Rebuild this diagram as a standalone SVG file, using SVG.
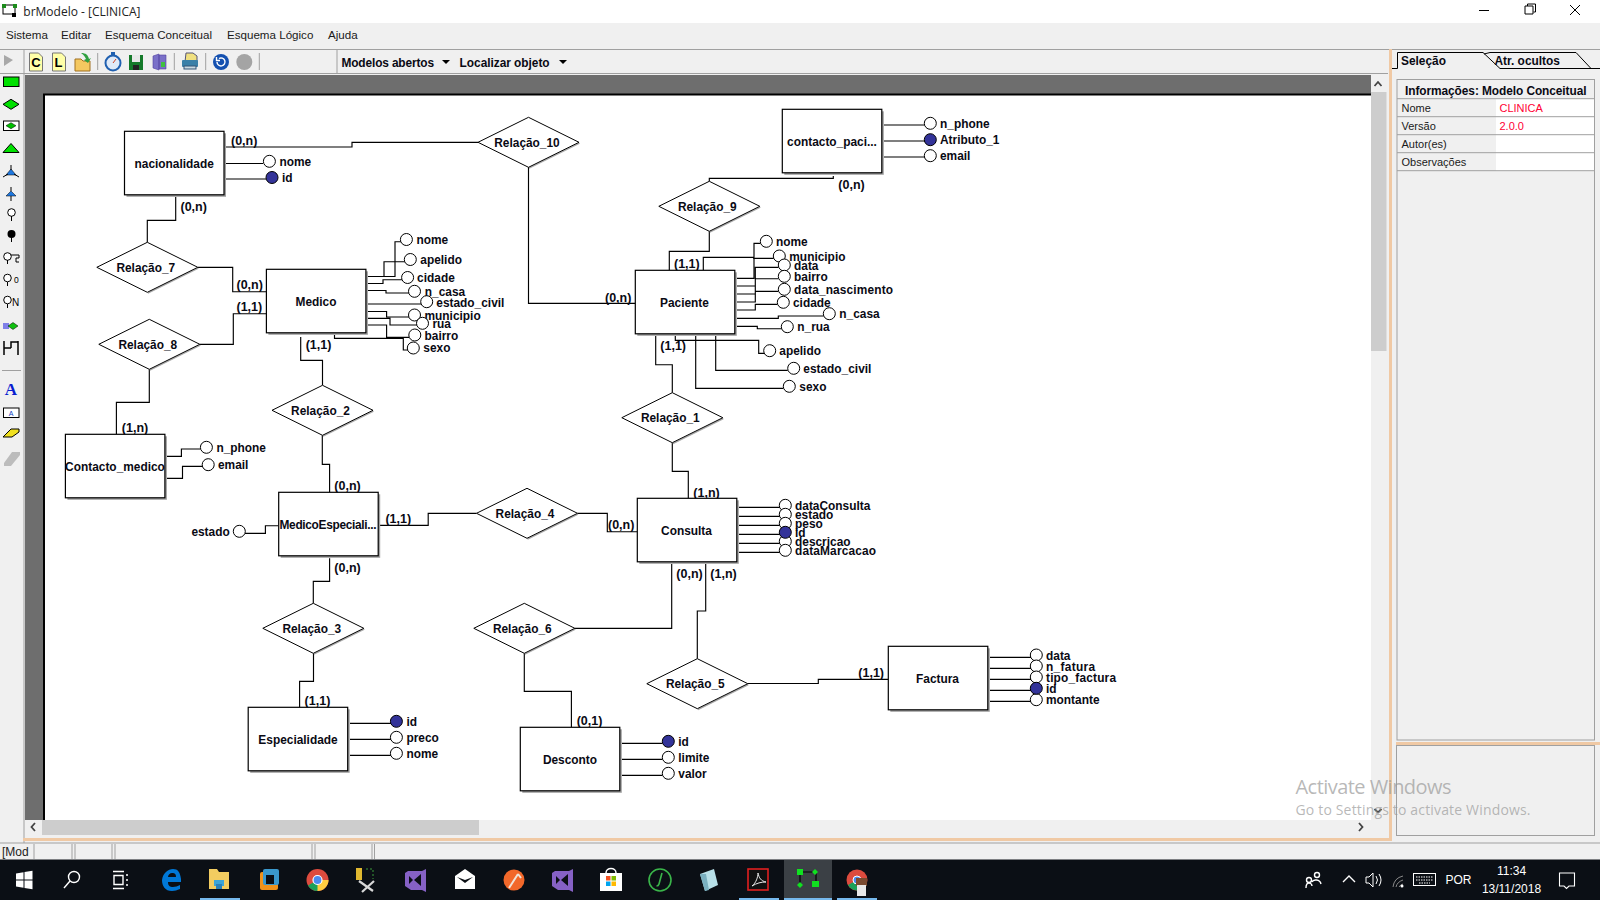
<svg xmlns="http://www.w3.org/2000/svg" width="1600" height="900" viewBox="0 0 1600 900">
<style>
.t{font:bold 11.9px "Liberation Sans",Arial,sans-serif;fill:#0a0a14}
.l{font-size:12.5px}
.m{text-anchor:middle}
.u{font:11.6px "Liberation Sans",Arial,sans-serif;fill:#1a1a1a}
.p{font:11px "Liberation Sans",Arial,sans-serif;fill:#1a1a1a}
.w{font:12px "Liberation Sans",Arial,sans-serif;fill:#fff}
.c{fill:none;stroke:#000;stroke-width:1.15}
.a{fill:#fff;stroke:#000;stroke-width:1}
.k{fill:#333399;stroke:#000;stroke-width:1}
.b{fill:#fff;stroke:#000;stroke-width:1.2}
.s{fill:#a0a0a0}
.g{fill:none;stroke:#a0a0a0;stroke-width:1}
.o{fill:#f0c9a4}
.ic{fill:none;stroke:#fff;stroke-width:1.4}
.bl{fill:#76b9ed}
</style>
<defs>
<g id="ent"><rect x="2" y="2" width="99.5" height="63.5" class="s"/><rect width="99.5" height="63.5" class="b"/></g>
<g id="dia"><path d="M51 .8L.5 25.800" fill="none" stroke="#a8a8a8" stroke-width="1.500"/><polygon points="-50.500,0 0,-25 50.500,0 0,25" fill="#fff" stroke="#000" stroke-width="1"/></g>
</defs>

<rect width="1600" height="900" fill="#f0f0f0"/>
<rect width="1600" height="23" fill="#fff"/>
<g id="title">
<rect x="3" y="5" width="12" height="9" fill="none" stroke="#000"/><rect x="2" y="4" width="4" height="4" fill="#1c8c1c"/><rect x="13" y="4" width="4" height="4" fill="#1c8c1c"/><rect x="12" y="13" width="4" height="4" fill="#000"/>
<text x="23.300" y="16" font-family="Open Sans, Liberation Sans, sans-serif" font-size="12" fill="#222">brModelo - [CLINICA]</text>
<path d="M1479 10.500H1489" stroke="#000" fill="none"/><path d="M1525 14h8v-8h-8zM1527.500 6V4h8v8h-2" fill="none" stroke="#000"/><path d="M1570 5l10 10M1580 5l-10 10" stroke="#000" fill="none"/>
</g>
<g id="menu">
<text class="u" x="6" y="39">Sistema</text><text class="u" x="61" y="39">Editar</text><text class="u" x="105" y="39">Esquema Conceitual</text><text class="u" x="227" y="39">Esquema Lógico</text><text class="u" x="328" y="39">Ajuda</text>
</g>
<path d="M0 49.500H1390M0 73.500H25" class="g"/><path d="M24 50V843M337 50V73M97.700 53V70M174.300 53V70M205.700 53V70M259.300 53V70" class="g"/>
<path d="M25 73.500H1388" class="g"/>

<g id="toolbar">
<path d="M29.500 53h9l4 4v14h-13z" fill="#ffffa8" stroke="#777"/><text x="36" y="67" text-anchor="middle" font-family="Liberation Sans,sans-serif" font-weight="bold" font-size="13" fill="#000">C</text>
<path d="M52.500 53h9l4 4v14h-13z" fill="#ffffa8" stroke="#777"/><text x="58.500" y="67" text-anchor="middle" font-family="Liberation Sans,sans-serif" font-weight="bold" font-size="13" fill="#000">L</text>
<path d="M75 59h6l2 2h7v10H75z" fill="#f4c860" stroke="#a07020"/><path d="M81 53c5 0 7 2 8 6l2-1-3 5-4-3 2-1c-1-2-2-4-5-6z" fill="#30a040"/>
<circle cx="113" cy="63" r="7.500" fill="#dfeaf8" stroke="#2060b0" stroke-width="2"/><path d="M113 63l3-4" stroke="#d04020"/><rect x="111" y="52" width="4" height="3" fill="#2060b0"/>
<rect x="129" y="55" width="14" height="15" fill="#157a2a"/><rect x="132" y="55" width="8" height="7" fill="#e8e8e8"/><rect x="133" y="65" width="6" height="5" fill="#222"/>
<path d="M153 56l6-2v16l-6-2zM159 55h7v14h-7z" fill="#7a70c8" stroke="#5040a0" stroke-width=".6"/><rect x="161" y="62" width="4" height="5" fill="#40c040"/>
<path d="M185 62h12v-6l-4-3h-7z" fill="#f0e080" stroke="#557"/><rect x="182" y="60" width="16" height="7" rx="1" fill="#3a80a8"/><rect x="184" y="66" width="12" height="3" fill="#c8d8e0" stroke="#357"/>
<circle cx="221" cy="62" r="8" fill="#1450b0"/><path d="M217 62a4 4 0 1 0 2-3.500M216.500 57v3.500h3.500" fill="none" stroke="#fff" stroke-width="1.400"/>
<circle cx="244.300" cy="62" r="8" fill="#a4a4a4"/>
<text class="t" x="341.500" y="66.500" textLength="92.500">Modelos abertos</text><path d="M442 60h8l-4 4z" fill="#000"/>
<text class="t" x="459.600" y="66.500" textLength="90">Localizar objeto</text><path d="M559 60h8l-4 4z" fill="#000"/>
</g>

<g id="palette">
<path d="M4 55l9 5-9 6z" fill="#a8a8a8"/>
<rect x="3.500" y="77" width="15.500" height="9.500" fill="#00e000" stroke="#000"/>
<polygon points="3,104.300 11,99.300 19,104.300 11,109.300" fill="#00e000" stroke="#000"/>
<rect x="3.500" y="121" width="15.500" height="9.500" fill="#fff" stroke="#000"/><polygon points="6,125.700 11,122.700 16,125.700 11,128.700" fill="#00c000" stroke="#000" stroke-width=".5"/>
<polygon points="3,152.500 11,143.500 19,152.500" fill="#00e000" stroke="#000"/>
<polygon points="6,175 11,169 16,175" fill="#1e78e0" stroke="#000" stroke-width=".5"/><path d="M3 177l5-3M19 177l-5-3M11 165v5" stroke="#000" fill="none"/>
<polygon points="6,196 11,191 16,196" fill="#1e78e0" stroke="#000" stroke-width=".5"/><path d="M11 187v4M11 196v5" stroke="#000"/>
<circle cx="11.500" cy="212.500" r="3.800" fill="#fff" stroke="#000"/><path d="M11.500 216v5" stroke="#000"/>
<circle cx="11.500" cy="234" r="4" fill="#000"/><path d="M11.500 237v5" stroke="#000"/>
<circle cx="7.500" cy="256.500" r="3.800" fill="#fff" stroke="#000"/><path d="M7.500 260v4M11 255h8v3h-3v4h3" fill="none" stroke="#000"/>
<circle cx="7.500" cy="278" r="3.800" fill="#fff" stroke="#000"/><path d="M7.500 282v4" stroke="#000"/><text x="14" y="283" font-family="Liberation Sans,sans-serif" font-size="8.500" fill="#000">0</text>
<circle cx="7.500" cy="300" r="3.800" fill="#fff" stroke="#000"/><path d="M7.500 304v4" stroke="#000"/><text x="12" y="305.500" font-family="Liberation Sans,sans-serif" font-size="10" fill="#000">N</text>
<path d="M3 324h6M3 326h6M3 328h6" stroke="#1010e0" stroke-width="1"/><polygon points="8,326 13,322.500 18,326 13,329.500" fill="#10c010" stroke="#000" stroke-width=".5"/>
<path d="M4 341v14M18 341v14M4 348h7M11 348v-6h7" fill="none" stroke="#000" stroke-width="1.500"/>
<path d="M2 370.500H21" class="g"/>
<text x="11" y="395" text-anchor="middle" font-family="Liberation Serif,serif" font-weight="bold" font-size="17" fill="#0a1ed0">A</text>
<rect x="3.500" y="408" width="15.500" height="9.500" fill="#fff" stroke="#000"/><text x="11" y="416" text-anchor="middle" font-family="Liberation Sans,sans-serif" font-size="7" fill="#1040c0">A</text>
<polygon points="3,437 11,429 19,429 19,432 12,437" fill="#f0e020" stroke="#000"/>
<polygon points="4,463 12,452 20,452 20,455 11,466 4,466" fill="#bcbcbc"/>
</g>

<g id="workspace">
<rect x="25" y="75" width="1346" height="745" fill="#6e6e6e"/>
<rect x="44" y="94" width="1327" height="726" fill="#fff"/>
<path d="M44 820V94.500H1371" fill="none" stroke="#000" stroke-width="2"/>
<rect x="1371" y="75" width="15.500" height="745" fill="#f0f0f0"/>
<rect x="1371" y="92" width="15.500" height="259" fill="#cdcdcd"/>
<path d="M1374.500 86l3.500-4 3.500 4M1374.500 809l3.500 3.500 3.500-3.500" fill="none" stroke="#444" stroke-width="1.800"/>
<rect x="25" y="820" width="1361" height="16" fill="#f0f0f0"/>
<rect x="42" y="820" width="437" height="15" fill="#cdcdcd"/>
<path d="M35 823l-3.500 4 3.500 4M1359 823l3.500 4-3.500 4" fill="none" stroke="#444" stroke-width="1.800"/>
<rect x="1389" y="49" width="3" height="792" class="o"/><rect x="23" y="838" width="1369" height="3" class="o"/>
</g>

<g id="panel">
<path d="M1392 68.500H1397.500V52.500H1483L1500 68.500" fill="none" stroke="#000"/><path d="M1392 49.500H1600" class="g"/>
<path d="M1490 52.500H1576L1591 68.500H1600M1500 68.500H1591M1490 52.500L1484 54" fill="none" stroke="#000"/>
<text class="t" x="1401" y="64.500">Seleção</text><text class="t" x="1494.500" y="64.500">Atr. ocultos</text>
<rect x="1397" y="79.500" width="197.500" height="660.500" class="g"/>
<rect x="1496" y="99" width="98" height="72" fill="#fff"/>
<path d="M1397 98.700H1594M1397 116.700H1594M1397 134.700H1594M1397 152.700H1594M1397 170.700H1594" class="g"/>
<text class="t" x="1405" y="94.500" textLength="181.500">Informações: Modelo Conceitual</text>
<text class="p" x="1401.500" y="112">Nome</text><text class="p" x="1401.500" y="130">Versão</text><text class="p" x="1401.500" y="148">Autor(es)</text><text class="p" x="1401.500" y="166">Observações</text>
<text class="p" x="1499.500" y="112" style="fill:#ff0033">CLINICA</text><text class="p" x="1499.500" y="130" style="fill:#ff0033">2.0.0</text>
<rect x="1396" y="742" width="204" height="3" class="o"/>
<rect x="1396.500" y="745.500" width="198" height="90" class="g"/>
</g>

<g id="statusbar">
<path d="M0 843H1600" stroke="#a0a0a0" fill="none"/><path d="M34 844V859M72 844V859M75 844V859M112 844V859M115 844V859M312 844V859M315 844V859M372 844V859M374.500 844V859" class="g"/>
<text x="2" y="856" font-family="Liberation Sans,sans-serif" font-size="12" fill="#222">[Mod</text>
</g>

<g id="connectors">
<path class="c" d="M226 147H352V142.300H478"/>
<path class="c" d="M528.500 167V303.300H635.300"/>
<path class="c" d="M175.700 197V220.300H147.300V242.300"/>
<path class="c" d="M198 267.300H232.700V291.700H266.400"/>
<path class="c" d="M199.800 344.300H233.300V313.700H266.400"/>
<path class="c" d="M149.300 369.300V402.300H116.400V434.300"/>
<path class="c" d="M300.700 337V360.300H322.500V385.300"/>
<path class="c" d="M322.300 435.300V464.300H329.600V492.300"/>
<path class="c" d="M329.600 558.300V581.300H313.300V603.300"/>
<path class="c" d="M313.500 653.300V681.300H299.600V707.300"/>
<path class="c" d="M380 525.300H428.200V513.300H476.500"/>
<path class="c" d="M577.500 513.300H607.300V531.700H637.300"/>
<path class="c" d="M671.700 564V628.300H574.800"/>
<path class="c" d="M524.300 653.300V691.300H571.400V727.300"/>
<path class="c" d="M705.700 564V611H697.300V658.700"/>
<path class="c" d="M748 683.500H818.300V679.300H888.300"/>
<path class="c" d="M672.300 442.700V471.300H688.300V498.300"/>
<path class="c" d="M655.700 336V364.700H672.300V392.700"/>
<path class="c" d="M833.300 176V178.300H709.300V181.300"/>
<path class="c" d="M709.300 231.300V251.300H669.300V270.300"/>
<path class="c" d="M226 163.500H263M226 179H266"/>
<path class="c" d="M884 125H925M884 141H925M884 157H925"/>
<path class="c" d="M367.800 276.500H395V241.700H401M367.800 276.500H384V261.700H405M367.800 283.500H383V279.700H402M367.800 290.500H386V293H409M367.800 304H421M367.800 311.500H386.600V317H409M367.800 318.300H390V325H417M367.800 325H386.600V337.400H409M334.500 335V338.300H403.300V350H408"/>
<path class="c" d="M167 456.300H181.400V449H200.500M167 478.300H182.500V466.300H202"/>
<path class="c" d="M245 533.300H265.400V525.700H278.200"/>
<path class="c" d="M350 723.300H391M350 739.300H391M350 755.300H391"/>
<path class="c" d="M622 743.300H662.500M622 759.300H662.500M622 775.300H662.500"/>
<path class="c" d="M739 507.300H780M739 516.300H780M739 525.300H780M739 534.300H780M739 543.300H780M739 552.300H780"/>
<path class="c" d="M990 657.300H1031M990 668.300H1031M990 679.300H1031M990 690.300H1031M990 701.300H1031"/>
<path class="c" d="M737 278.300H754V243.300H760.500M703.300 270.300V257.300H753.700V258.300H773.700M737 286H755.300V267.300H778.500M737 294H755.300V278.700H778.500M737 302H755.300V291.300H778.500M737 310H755.300V304.300H777.500M737 318.300H778.300V316H823.500M737 326.300H757.300V328.700H781.500"/>
<path class="c" d="M675.300 336V340.300H758.700V353.300H764M715.700 336V370.300H787.700M695.700 336V388.300H783.300"/>
<g class="t l">
<text x="231" y="144.700">(0,n)</text><text x="180.500" y="211">(0,n)</text><text x="236.500" y="289">(0,n)</text><text x="236.500" y="311">(1,1)</text><text x="121.800" y="432">(1,n)</text><text x="305.700" y="349">(1,1)</text><text x="334.300" y="490">(0,n)</text><text x="334.300" y="572.300">(0,n)</text><text x="304.600" y="705">(1,1)</text><text x="385.400" y="523">(1,1)</text><text x="608" y="529">(0,n)</text><text x="693.300" y="496.700">(1,n)</text><text x="676.300" y="578.300">(0,n)</text><text x="710.300" y="578.300">(1,n)</text><text x="858.300" y="676.700">(1,1)</text><text x="576.700" y="725">(0,1)</text><text x="838.300" y="189.300">(0,n)</text><text x="674" y="268.300">(1,1)</text><text x="605" y="301.700">(0,n)</text><text x="660.300" y="350.300">(1,1)</text>
</g>
</g>

<g id="nacionalidade"><use href="#ent" x="124.500" y="131.300"/><text class="t m" x="174.200" y="168">nacionalidade</text></g>
<g id="contacto_paciente"><use href="#ent" x="782.300" y="109.300"/><text class="t m" x="832" y="145.500">contacto_paci...</text></g>
<g id="medico"><use href="#ent" x="266.400" y="269.300"/><text class="t m" x="316" y="306">Medico</text></g>
<g id="paciente"><use href="#ent" x="635.300" y="270.300"/><text class="t m" x="684.500" y="307">Paciente</text></g>
<g id="contacto_medico"><use href="#ent" x="65.400" y="434.300"/><text class="t m" x="115" y="471">Contacto_medico</text></g>
<g id="medico_especialidade"><use href="#ent" x="278.700" y="492.300"/><text class="t m" x="328" y="529" textLength="97">MedicoEspeciali...</text></g>
<g id="consulta"><use href="#ent" x="637.300" y="498.300"/><text class="t m" x="686.500" y="535">Consulta</text></g>
<g id="especialidade"><use href="#ent" x="248.200" y="707.300"/><text class="t m" x="298" y="744">Especialidade</text></g>
<g id="desconto"><use href="#ent" x="520.300" y="727.300"/><text class="t m" x="570" y="764">Desconto</text></g>
<g id="factura"><use href="#ent" x="888.300" y="646.300"/><text class="t m" x="937.500" y="683">Factura</text></g>

<g id="relacao_10"><use href="#dia" x="528.500" y="142.300"/><text class="t m" x="527" y="147">Relação_10</text></g>
<g id="relacao_7"><use href="#dia" x="147.300" y="267.300"/><text class="t m" x="145.800" y="272">Relação_7</text></g>
<g id="relacao_8"><use href="#dia" x="149.300" y="344.300"/><text class="t m" x="147.800" y="349">Relação_8</text></g>
<g id="relacao_2"><use href="#dia" x="322.500" y="410.300"/><text class="t m" x="320.500" y="415">Relação_2</text></g>
<g id="relacao_3"><use href="#dia" x="313.300" y="628.300"/><text class="t m" x="311.800" y="633">Relação_3</text></g>
<g id="relacao_4"><use href="#dia" x="527" y="513.300"/><text class="t m" x="525" y="518">Relação_4</text></g>
<g id="relacao_6"><use href="#dia" x="524.300" y="628.300"/><text class="t m" x="522.300" y="633">Relação_6</text></g>
<g id="relacao_9"><use href="#dia" x="709.300" y="206.300"/><text class="t m" x="707.300" y="211">Relação_9</text></g>
<g id="relacao_1"><use href="#dia" x="672.300" y="417.700"/><text class="t m" x="670.300" y="421.700">Relação_1</text></g>
<g id="relacao_5"><use href="#dia" x="697.300" y="683.700"/><text class="t m" x="695.300" y="687.700">Relação_5</text></g>

<g id="attributes">
<g id="nac_nome"><circle class="a" cx="269.400" cy="161.300" r="6"/><text class="t" x="279.400" y="166">nome</text></g>
<g id="nac_id"><circle class="k" cx="272" cy="177.500" r="6"/><text class="t" x="282" y="182">id</text></g>
<g id="cp_phone"><circle class="a" cx="930.300" cy="123.300" r="6"/><text class="t" x="940" y="128">n_phone</text></g>
<g id="cp_atr"><circle class="k" cx="930.300" cy="139.700" r="6"/><text class="t" x="940" y="144">Atributo_1</text></g>
<g id="cp_email"><circle class="a" cx="930.300" cy="155.700" r="6"/><text class="t" x="940" y="160">email</text></g>

<g id="m_nome"><circle class="a" cx="406.400" cy="239.500" r="6"/><text class="t" x="416.400" y="244">nome</text></g>
<g id="m_apelido"><circle class="a" cx="410.300" cy="259.500" r="6"/><text class="t" x="420.300" y="264">apelido</text></g>
<g id="m_cidade"><circle class="a" cx="407.600" cy="277.500" r="6"/><text class="t" x="417.100" y="282">cidade</text></g>
<g id="m_ncasa"><circle class="a" cx="414.500" cy="291.300" r="6"/><text class="t" x="424.800" y="296">n_casa</text></g>
<g id="m_estado"><circle class="a" cx="426.700" cy="301.700" r="6"/><text class="t" x="436.300" y="306.500">estado_civil</text></g>
<g id="m_municipio"><circle class="a" cx="414.500" cy="315" r="6"/><text class="t" x="424.500" y="320">municipio</text></g>
<g id="m_rua"><circle class="a" cx="422.500" cy="323.300" r="6"/><text class="t" x="432.400" y="328">rua</text></g>
<g id="m_bairro"><circle class="a" cx="414.800" cy="335" r="6"/><text class="t" x="424.500" y="340">bairro</text></g>
<g id="m_sexo"><circle class="a" cx="413.300" cy="348" r="6"/><text class="t" x="423.300" y="352">sexo</text></g>

<g id="cm_phone"><circle class="a" cx="206.400" cy="447.300" r="6"/><text class="t" x="216.400" y="452">n_phone</text></g>
<g id="cm_email"><circle class="a" cx="208.200" cy="464.700" r="6"/><text class="t" x="218" y="469">email</text></g>
<g id="me_estado"><circle class="a" cx="239.300" cy="531.300" r="6"/><text class="t" x="191.400" y="536">estado</text></g>
<g id="e_id"><circle class="k" cx="396.400" cy="721.300" r="6"/><text class="t" x="406.400" y="725.700">id</text></g>
<g id="e_preco"><circle class="a" cx="396.400" cy="737.300" r="6"/><text class="t" x="406.400" y="741.700">preco</text></g>
<g id="e_nome"><circle class="a" cx="396.400" cy="753.300" r="6"/><text class="t" x="406.400" y="757.700">nome</text></g>
<g id="d_id"><circle class="k" cx="668.300" cy="741.300" r="6"/><text class="t" x="678.300" y="746">id</text></g>
<g id="d_limite"><circle class="a" cx="668.300" cy="757.300" r="6"/><text class="t" x="678.300" y="762">limite</text></g>
<g id="d_valor"><circle class="a" cx="668.300" cy="773.300" r="6"/><text class="t" x="678.300" y="778">valor</text></g>

<g id="c_dataconsulta"><circle class="a" cx="785.300" cy="505.300" r="6"/><text class="t" x="795" y="510">dataConsulta</text></g>
<g id="c_estado"><circle class="a" cx="785.300" cy="514.300" r="6"/><text class="t" x="795" y="519">estado</text></g>
<g id="c_peso"><circle class="a" cx="785.300" cy="523.300" r="6"/><text class="t" x="795" y="528">peso</text></g>
<g id="c_descricao"><circle class="a" cx="785.300" cy="541.300" r="6"/><text class="t" x="795" y="546">descricao</text></g>
<g id="c_datamarcacao"><circle class="a" cx="785.300" cy="550.300" r="6"/><text class="t" x="795" y="555" textLength="81">dataMarcacao</text></g>
<g id="c_id"><circle class="k" cx="785.300" cy="532.300" r="6"/><text class="t" x="795" y="537">id</text></g>

<g id="f_data"><circle class="a" cx="1036.300" cy="655" r="6"/><text class="t" x="1046" y="660">data</text></g>
<g id="f_nfatura"><circle class="a" cx="1036.300" cy="666" r="6"/><text class="t" x="1046" y="671" textLength="49">n_fatura</text></g>
<g id="f_tipo"><circle class="a" cx="1036.300" cy="677" r="6"/><text class="t" x="1046" y="682" textLength="70">tipo_factura</text></g>
<g id="f_montante"><circle class="a" cx="1036.300" cy="699.700" r="6"/><text class="t" x="1046" y="704">montante</text></g>
<g id="f_id"><circle class="k" cx="1036.300" cy="688.300" r="6"/><text class="t" x="1046" y="693">id</text></g>

<g id="p_nome"><circle class="a" cx="766.300" cy="241.300" r="6"/><text class="t" x="776" y="246">nome</text></g>
<g id="p_municipio"><circle class="a" cx="779.300" cy="256" r="6"/><text class="t" x="789.300" y="260.700">municipio</text></g>
<g id="p_data"><circle class="a" cx="784.300" cy="265" r="6"/><text class="t" x="794" y="270">data</text></g>
<g id="p_bairro"><circle class="a" cx="784.300" cy="276.300" r="6"/><text class="t" x="794" y="281.300">bairro</text></g>
<g id="p_nasc"><circle class="a" cx="784.300" cy="289.300" r="6"/><text class="t" x="794" y="294" textLength="99">data_nascimento</text></g>
<g id="p_cidade"><circle class="a" cx="783.300" cy="302.300" r="6"/><text class="t" x="793" y="307">cidade</text></g>
<g id="p_ncasa"><circle class="a" cx="829.300" cy="313.700" r="6"/><text class="t" x="839.300" y="318.300">n_casa</text></g>
<g id="p_nrua"><circle class="a" cx="787.300" cy="326.700" r="6"/><text class="t" x="797.300" y="331.300">n_rua</text></g>
<g id="p_apelido"><circle class="a" cx="769.700" cy="350.700" r="6"/><text class="t" x="779.300" y="355">apelido</text></g>
<g id="p_estado"><circle class="a" cx="793.700" cy="368.300" r="6"/><text class="t" x="803.300" y="373">estado_civil</text></g>
<g id="p_sexo"><circle class="a" cx="789.300" cy="386.300" r="6"/><text class="t" x="799.300" y="391">sexo</text></g>
</g>

<g id="watermark" fill="#999" fill-opacity=".7" font-family="Open Sans,Liberation Sans,sans-serif">
<text x="1295.500" y="793.500" font-size="20" textLength="156">Activate Windows</text>
<text x="1295.500" y="814.500" font-size="14" textLength="235">Go to Settings to activate Windows.</text>
</g>

<g id="taskbar">
<rect y="859.500" width="1600" height="41" fill="#0b0f15"/>
<rect x="784" y="860" width="48" height="40" fill="#3b4045"/>
<rect x="200" y="898" width="40" height="2" class="bl"/><rect x="739" y="898" width="40" height="2" class="bl"/><rect x="784" y="898" width="48" height="2" class="bl"/><rect x="837" y="898" width="40" height="2" class="bl"/>
<path d="M16 873.500l7.500-1.200v7.200H16zM24.500 872l8-1.200v8.700h-8zM16 880.500h7.500v7.200L16 886.500zM24.500 880.500h8v8.700l-8-1.200z" fill="#fff"/>
<circle cx="74" cy="877" r="5.500" class="ic"/><path d="M70 881l-6 7" class="ic"/>
<path d="M113 871.500h11M114 875.500h9v9h-9zM113 888.500h11M126 875h2M126 880h2M126 885h2" class="ic"/>
<path d="M162 880c1-7 6-11 11-11 5 0 7 3 8 10v3h-13c0 4 2 5 5 5 2 0 5-1 7-2v4c-3 1-5 2-8 2-7 0-10-5-10-11zM168 877h8c0-3-1-4-4-4-2 0-4 2-4 4z" fill="#0078d7" fill-rule="evenodd"/>
<path d="M209 869h8l2 3h10v17h-20z" fill="#f2cc60"/><rect x="214" y="880" width="10" height="6" fill="#3ba4d8"/><rect x="216" y="884" width="6" height="5" fill="#2a80b8"/>
<rect x="260" y="872" width="18" height="18" rx="2" fill="#f0921a"/><rect x="263" y="869" width="16" height="16" rx="2" fill="#3a98cc"/><rect x="266" y="875" width="8" height="9" fill="#0b0f15"/>
<circle cx="317.500" cy="880" r="11" fill="#dd4b3e"/><path d="M317.500 880l-9.500 5.500a11 11 0 0 0 9.500 5.500l5.500-9.500z" fill="#1ba15a"/><path d="M317.500 880h11a11 11 0 0 1-11 11z" fill="#ffcd40"/><circle cx="317.500" cy="880" r="4.500" fill="#4a8bf0" stroke="#fff" stroke-width="1.200"/>
<rect x="356" y="868" width="6" height="12" fill="#e0b830"/><path d="M366 869h7v10" fill="none" stroke="#3a9a3a" stroke-dasharray="2 2"/><path d="M359 881l14 10M374 881l-12 11" stroke="#d8d8d8" stroke-width="2.200"/>
<path d="M405 873l3-2 14-0 4-2v23l-4-2h-11l-6-4zM409 876v8l4-4zM414 880l7 6v-12z" fill="#8661c5" fill-rule="evenodd"/>
<path d="M455 876l10-7 10 7v13h-20z" fill="#fff"/><path d="M457 877l8 6 8-6-8 3z" fill="#0b0f15"/>
<circle cx="514" cy="880" r="10.500" fill="#f2682a"/><path d="M509 888l9-14M518 874l3 4" stroke="#f0e4d8" stroke-width="2" fill="none"/>
<path d="M552 873l3-2 14-0 4-2v23l-4-2h-11l-6-4zM556 876v8l4-4zM561 880l7 6v-12z" fill="#8661c5" fill-rule="evenodd"/>
<rect x="600" y="873" width="22" height="18" fill="#fff"/><path d="M606 873c0-6 10-6 10 0" fill="none" stroke="#fff" stroke-width="1.500"/><rect x="606" y="876" width="4.500" height="4.500" fill="#f25022"/><rect x="611.500" y="876" width="4.500" height="4.500" fill="#7fba00"/><rect x="606" y="881.500" width="4.500" height="4.500" fill="#00a4ef"/><rect x="611.500" y="881.500" width="4.500" height="4.500" fill="#ffb900"/>
<circle cx="660" cy="880" r="11" fill="none" stroke="#3ab54a" stroke-width="1.600"/><path d="M662 873l-3 11c-.5 2-1 2-2.500 2" fill="none" stroke="#3ab54a" stroke-width="1.600"/>
<path d="M700 874l14-5 4 16-13 6z" fill="#b8e0e8"/><path d="M700 874l5 17 4-1-3-16z" fill="#7ab0c0"/>
<rect x="748" y="869" width="20" height="21" fill="#101010" stroke="#e02020" stroke-width="1.600"/><path d="M752 886c4-3 6-9 6-13 1 5 3 8 8 9-5 0-9 1-14 4z" fill="none" stroke="#e8e8e8"/>
<path d="M800 872h16v12h-4M800 872v15" fill="none" stroke="#000" stroke-width="1.200"/><rect x="797" y="869" width="6" height="6" fill="#10e020"/><rect x="812" y="881" width="7" height="6" fill="#10e020"/><polygon points="815,869 818,872 815,875 812,872" fill="#10e020"/><polygon points="800,882 803,885 800,888 797,885" fill="#10e020"/>
<circle cx="857" cy="880" r="10.500" fill="#dd4b3e"/><path d="M857 880l-9 5a10.500 10.500 0 0 0 9 5.500z" fill="#1ba15a"/><circle cx="857" cy="880" r="4" fill="#4a8bf0" stroke="#fff"/><rect x="856" y="878" width="11" height="8" fill="#7a4a30"/><rect x="857" y="885" width="9" height="11" fill="#e8e8e8"/>
<circle cx="1317" cy="875" r="2.500" class="ic"/><circle cx="1309" cy="880" r="2.500" class="ic"/><path d="M1306 888c0-4 2-5 3-5s3 1 3 3M1312 882c1-3 8-3 9 2" class="ic"/>
<path d="M1343 882l6-6 6 6" class="ic"/>
<path d="M1366 877h3l4-4v14l-4-4h-3zM1376 876q3 4 0 8M1379 874q4 6 0 12" class="ic" style="stroke-width:1"/>
<path d="M1393 887q1-9 10-11M1396 887q1-5 7-7M1399 887q1-2 4-3" fill="none" stroke="#8a8a8a"/><circle cx="1402" cy="886" r="1.500" fill="#fff"/>
<rect x="1413.500" y="873.500" width="22" height="12" class="ic" style="stroke-width:1"/><path d="M1416 877h17M1416 880h17M1419 883h11" fill="none" stroke="#fff" stroke-dasharray="1.500 1"/>
<text class="w" x="1458.500" y="884" text-anchor="middle">POR</text>
<text class="w" x="1511.500" y="875" text-anchor="middle">11:34</text>
<text class="w" x="1511.500" y="893" text-anchor="middle">13/11/2018</text>
<path d="M1559.500 873H1574.500V886H1569L1566.500 888.500 1564 886H1559.500Z" class="ic" style="stroke-width:1.100"/>
</g>
</svg>
